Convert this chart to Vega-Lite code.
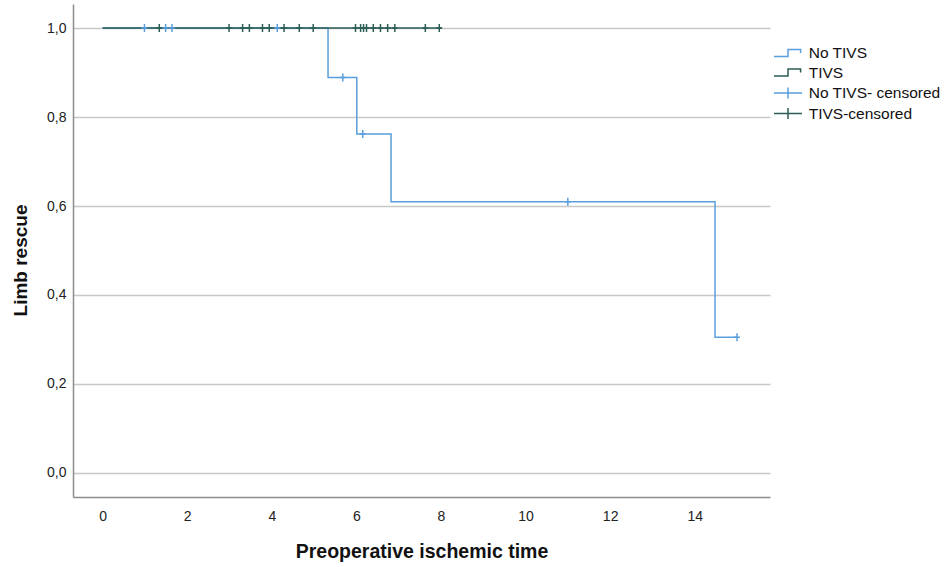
{
  "$schema": "https://vega.github.io/schema/vega-lite/v6.json",
  "description": "Kaplan-Meier curve of limb rescue by preoperative ischemic time, TIVS vs no TIVS.",
  "autosize": "none",
  "width": 697,
  "height": 493,
  "padding": {"left": 73, "top": 4, "right": 175, "bottom": 70},
  "background": "white",
  "config": {
    "view": {"stroke": null},
    "font": "Liberation Sans",
    "axis": {
      "labelFont": "Liberation Sans",
      "titleFont": "Liberation Sans",
      "labelColor": "#222222",
      "titleColor": "#111111",
      "domainColor": "#8c8c8c",
      "domainWidth": 1.5,
      "ticks": false,
      "tickSize": 0,
      "gridColor": "#c8c8c8",
      "gridWidth": 1.5
    }
  },
  "data": {
    "values": [
      {"series": "No TIVS", "kind": "step", "t": 0, "s": 1},
      {"series": "No TIVS", "kind": "step", "t": 5.33, "s": 0.889},
      {"series": "No TIVS", "kind": "step", "t": 6.01, "s": 0.762},
      {"series": "No TIVS", "kind": "step", "t": 6.82, "s": 0.6095},
      {"series": "No TIVS", "kind": "step", "t": 14.48, "s": 0.305},
      {"series": "No TIVS", "kind": "step", "t": 15.0, "s": 0.305},
      {"series": "TIVS", "kind": "step", "t": 0, "s": 1},
      {"series": "TIVS", "kind": "step", "t": 8.02, "s": 1},
      {"series": "No TIVS- censored", "kind": "censor", "t": 0.99, "s": 1},
      {"series": "No TIVS- censored", "kind": "censor", "t": 1.49, "s": 1},
      {"series": "No TIVS- censored", "kind": "censor", "t": 1.64, "s": 1},
      {"series": "No TIVS- censored", "kind": "censor", "t": 4.13, "s": 1},
      {"series": "No TIVS- censored", "kind": "censor", "t": 5.68, "s": 0.889},
      {"series": "No TIVS- censored", "kind": "censor", "t": 6.15, "s": 0.762},
      {"series": "No TIVS- censored", "kind": "censor", "t": 11.0, "s": 0.6095},
      {"series": "No TIVS- censored", "kind": "censor", "t": 15.0, "s": 0.305},
      {"series": "TIVS-censored", "kind": "censor", "t": 1.34, "s": 1},
      {"series": "TIVS-censored", "kind": "censor", "t": 2.99, "s": 1},
      {"series": "TIVS-censored", "kind": "censor", "t": 3.31, "s": 1},
      {"series": "TIVS-censored", "kind": "censor", "t": 3.47, "s": 1},
      {"series": "TIVS-censored", "kind": "censor", "t": 3.78, "s": 1},
      {"series": "TIVS-censored", "kind": "censor", "t": 3.94, "s": 1},
      {"series": "TIVS-censored", "kind": "censor", "t": 4.29, "s": 1},
      {"series": "TIVS-censored", "kind": "censor", "t": 4.65, "s": 1},
      {"series": "TIVS-censored", "kind": "censor", "t": 4.98, "s": 1},
      {"series": "TIVS-censored", "kind": "censor", "t": 5.98, "s": 1},
      {"series": "TIVS-censored", "kind": "censor", "t": 6.10, "s": 1},
      {"series": "TIVS-censored", "kind": "censor", "t": 6.17, "s": 1},
      {"series": "TIVS-censored", "kind": "censor", "t": 6.24, "s": 1},
      {"series": "TIVS-censored", "kind": "censor", "t": 6.40, "s": 1},
      {"series": "TIVS-censored", "kind": "censor", "t": 6.57, "s": 1},
      {"series": "TIVS-censored", "kind": "censor", "t": 6.74, "s": 1},
      {"series": "TIVS-censored", "kind": "censor", "t": 6.91, "s": 1},
      {"series": "TIVS-censored", "kind": "censor", "t": 7.63, "s": 1},
      {"series": "TIVS-censored", "kind": "censor", "t": 7.96, "s": 1}
    ]
  },
  "encoding": {
    "x": {
      "field": "t",
      "type": "quantitative",
      "title": "Preoperative ischemic time",
      "scale": {"domain": [-0.7, 15.78], "nice": false, "zero": false},
      "axis": {
        "values": [0, 2, 4, 6, 8, 10, 12, 14],
        "grid": false,
        "labelFontSize": 14,
        "labelPadding": 12,
        "titleFontSize": 19.5,
        "titleFontWeight": "bold",
        "titleBaseline": "middle",
        "titleY": 54
      }
    },
    "y": {
      "field": "s",
      "type": "quantitative",
      "title": "Limb rescue",
      "scale": {"domain": [-0.054, 1.054], "nice": false, "zero": false},
      "axis": {
        "values": [0, 0.2, 0.4, 0.6, 0.8, 1.0],
        "grid": true,
        "labelExpr": "replace(format(datum.value, '.1f'), '.', ',')",
        "labelFontSize": 14,
        "labelPadding": 7,
        "titleFontSize": 19,
        "titleFontWeight": "bold",
        "titleBaseline": "middle",
        "titleX": -53,
        "titleY": 256
      }
    },
    "color": {
      "field": "series",
      "type": "nominal",
      "scale": {
        "domain": ["No TIVS", "TIVS", "No TIVS- censored", "TIVS-censored"],
        "range": ["#5a9fdd", "#2c5e56", "#5a9fdd", "#2c5e56"]
      },
      "legend": {
        "title": null,
        "orient": "none",
        "legendX": 707,
        "legendY": 41,
        "padding": 0,
        "rowPadding": 2.5,
        "symbolSize": 196,
        "symbolStrokeWidth": 1.5,
        "labelFont": "Liberation Sans",
        "labelFontSize": 15.5,
        "labelColor": "#111111",
        "labelOffset": 12.7,
        "encode": {
          "symbols": {
            "update": {
              "shape": {"signal": "indexof(datum.value, 'censored') >= 0 ? 'M-2,0L2,0M0,-0.8L0,0.8' : 'M-2,0.5L0,0.5L0,-0.5L1.8,-0.5L1.8,0'"},
              "stroke": {"signal": "scale('color', datum.value)"},
              "fill": {"value": "transparent"},
              "strokeWidth": {"value": 1.5},
              "opacity": {"value": 1}
            }
          }
        }
      }
    }
  },
  "layer": [
    {
      "transform": [{"filter": "datum.series == 'No TIVS'"}],
      "mark": {"type": "line", "interpolate": "step-after", "strokeWidth": 1.5}
    },
    {
      "transform": [{"filter": "datum.series == 'TIVS'"}],
      "mark": {"type": "line", "interpolate": "step-after", "strokeWidth": 1.5}
    },
    {
      "transform": [{"filter": "datum.series == 'TIVS-censored'"}],
      "mark": {"type": "point", "shape": "M0,-1L0,1M-0.75,0L0.75,0", "size": 64, "filled": false, "strokeWidth": 1.5, "opacity": 1}
    },
    {
      "transform": [{"filter": "datum.series == 'No TIVS- censored'"}],
      "mark": {"type": "point", "shape": "M0,-1L0,1M-0.75,0L0.75,0", "size": 64, "filled": false, "strokeWidth": 1.5, "opacity": 1}
    }
  ]
}
